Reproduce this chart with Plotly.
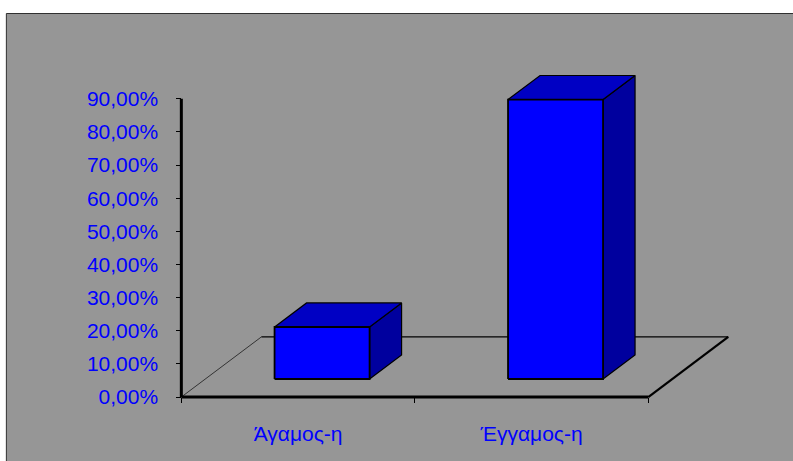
import plotly.graph_objects as go

# ---- data ----
categories = ["Άγαμος-η", "Έγγαμος-η"]
shares = [0.1569, 0.8431]
value_ticks = [0.0, 0.1, 0.2, 0.3, 0.4, 0.5, 0.6, 0.7, 0.8, 0.9]

# ---- oblique 3-D projection (depth 0 = front plane, 1 = back wall) ----
DEPTH_DX = 0.3426      # horizontal shift of the back plane, in category units
DEPTH_DY = 0.1813      # vertical shift of the back plane, in value units
BAR_HALF = 0.2035      # half width of a column, in category units
BAR_D0, BAR_D1 = 0.30, 0.70   # column depth span

FRONT = "#0000FF"
TOP = "#0000C4"
SIDE = "#00009E"
BG = "#969696"

# ---- page geometry ----
W_PX, H_PX = 793, 461
X_SCALE, Y_SCALE = 233.5, 331.0      # pixels per axis unit
X0_PX, Y0_PX = 181.0, 397.0          # pixel position of the axes origin
X_RANGE = [-0.04, 2.38]
Y_RANGE = [-0.015, 1.05]

ml = X0_PX + X_RANGE[0] * X_SCALE
plot_w = (X_RANGE[1] - X_RANGE[0]) * X_SCALE
mr = W_PX - ml - plot_w
mb = H_PX - (Y0_PX - Y_RANGE[0] * Y_SCALE)
plot_h = (Y_RANGE[1] - Y_RANGE[0]) * Y_SCALE
mt = H_PX - mb - plot_h


def proj(x, y, d):
    return x + d * DEPTH_DX, y + d * DEPTH_DY


def poly(points, fill, line_color="black", width=1.2):
    xs, ys = zip(*[proj(*p) for p in points])
    return go.Scatter(
        x=list(xs) + [xs[0]], y=list(ys) + [ys[0]],
        mode="lines", fill="toself", fillcolor=fill,
        line=dict(color=line_color, width=width),
        hoverinfo="skip", showlegend=False,
    )


def seg(p0, p1, color="black", width=1.0):
    (x0, y0), (x1, y1) = proj(*p0), proj(*p1)
    return go.Scatter(
        x=[x0, x1], y=[y0, y1], mode="lines",
        line=dict(color=color, width=width),
        hoverinfo="skip", showlegend=False,
    )


n = len(categories)
fig = go.Figure()

# floor of the chart
fig.add_trace(seg((0, 0, 1), (n, 0, 1), "black", 1.2))
fig.add_trace(seg((0, 0, 0), (0, 0, 1), "#333333", 1.0))
fig.add_trace(seg((n, 0, 0), (n, 0, 1), "black", 2.2))

# value axis and category axis lines
fig.add_trace(seg((0, 0, 0), (0, value_ticks[-1], 0), "black", 3))
fig.add_trace(seg((0, 0, 0), (n, 0, 0), "black", 3))

# columns
for i, v in enumerate(shares):
    c = i + 0.5
    a, b = c - BAR_HALF, c + BAR_HALF
    fig.add_trace(poly([(b, 0, BAR_D0), (b, 0, BAR_D1), (b, v, BAR_D1), (b, v, BAR_D0)], SIDE))
    fig.add_trace(poly([(a, v, BAR_D0), (b, v, BAR_D0), (b, v, BAR_D1), (a, v, BAR_D1)], TOP))
    fig.add_trace(poly([(a, 0, BAR_D0), (b, 0, BAR_D0), (b, v, BAR_D0), (a, v, BAR_D0)], FRONT, width=1.8))

label_font = dict(family="Liberation Sans, Arial, sans-serif", size=21, color="#0000FF")

fig.update_layout(
    width=W_PX, height=H_PX, autosize=False,
    margin=dict(l=ml, r=mr, t=mt, b=mb, pad=0),
    paper_bgcolor="white", plot_bgcolor="rgba(0,0,0,0)",
    separators=",.",
    showlegend=False,
    font=label_font,
    xaxis=dict(
        range=X_RANGE, domain=[0, 1], anchor="free",
        position=-Y_RANGE[0] / (Y_RANGE[1] - Y_RANGE[0]),
        tickmode="array", tickvals=[i + 0.5 for i in range(n)], ticktext=categories,
        ticks="", showgrid=False, zeroline=False, showline=False,
        tickfont=label_font, ticklabelstandoff=22, automargin=False,
        minor=dict(tickmode="array", tickvals=list(range(n + 1)),
                   ticks="outside", ticklen=5, tickwidth=1, tickcolor="black",
                   showgrid=False),
        fixedrange=True,
    ),
    yaxis=dict(
        range=Y_RANGE, domain=[0, 1], anchor="free",
        position=-X_RANGE[0] / (X_RANGE[1] - X_RANGE[0]),
        tickmode="array", tickvals=value_ticks, tickformat=".2%",
        ticks="outside", ticklen=5, tickwidth=1, tickcolor="black",
        showgrid=False, zeroline=False, showline=False,
        tickfont=label_font, ticklabelstandoff=14, automargin=False,
        fixedrange=True,
    ),
    shapes=[
        dict(type="rect", xref="paper", yref="paper", layer="below",
             x0=(6 - ml) / plot_w, x1=(W_PX + 20 - ml) / plot_w,
             y0=-(mb + 20) / plot_h, y1=(H_PX - mb - 14) / plot_h,
             fillcolor=BG, line=dict(color="#303030", width=1)),
    ],
)

fig.write_html("out.html")
